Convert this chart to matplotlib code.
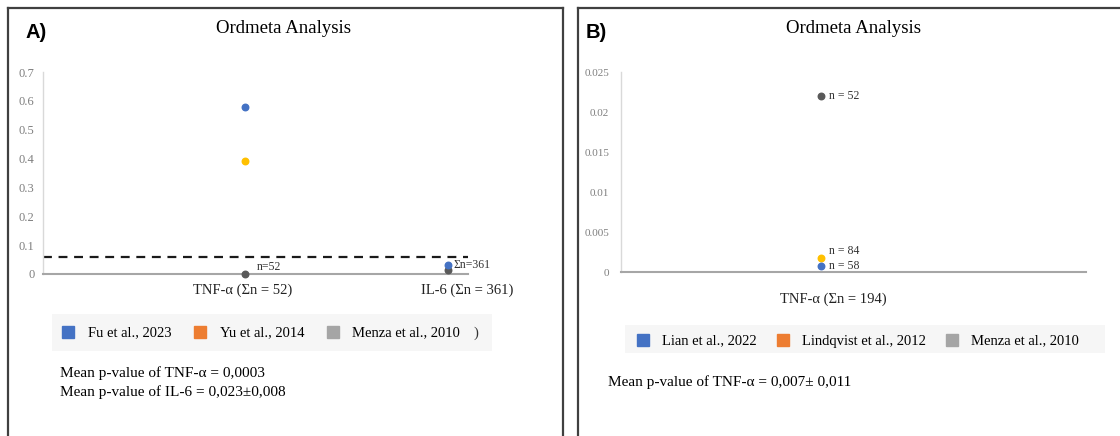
import numpy as np
import matplotlib
matplotlib.use('Agg')
import matplotlib.pyplot as plt
from matplotlib.lines import Line2D
from matplotlib.patches import Rectangle

plt.rcParams['font.family'] = ['Liberation Serif', 'DejaVu Serif']

# ---- panel A data ----
cats_a = ['TNF-α (Σn = 52)', 'IL-6 (Σn = 361)']
studies_a = ['Fu et al., 2023', 'Yu et al., 2014', 'Menza et al., 2010']
fu_a = [0.578, 0.031]
yu_a = [0.39, np.nan]
menza_a = [0.0003, 0.015]
threshold_a = 0.06
notes_a = ['n=52', 'Σn=361']
mean_a = ['Mean p-value of TNF-α = 0,0003', 'Mean p-value of IL-6 = 0,023±0,008']

# ---- panel B data ----
cats_b = ['TNF-α (Σn = 194)']
studies_b = ['Lian et al., 2022', 'Lindqvist et al., 2012', 'Menza et al., 2010']
lian_b = [0.0008]
lindqvist_b = [0.0018]
menza_b = [0.022]
notes_b = ['n = 58', 'n = 84', 'n = 52']
mean_b = 'Mean p-value of TNF-α = 0,007± 0,011'

BLUE = '#4472C4'
YELLOW = '#FFC000'
ORANGE = '#ED7D31'
DARK = '#595959'
LGRAY = '#A5A5A5'

W, H = 1120, 436
fig = plt.figure(figsize=(W / 100, H / 100), dpi=100)


def fx(px):
    return px / W


def fy(py):
    return 1 - py / H


def style_axes(ax):
    for s in ['top', 'right']:
        ax.spines[s].set_visible(False)
    ax.spines['left'].set_color('#D9D9D9')
    ax.spines['left'].set_linewidth(1)
    ax.spines['bottom'].set_color('#A6A6A6')
    ax.spines['bottom'].set_linewidth(1.5)
    ax.set_xticks([])
    ax.tick_params(axis='y', length=0, labelcolor='#7F7F7F', labelsize=9)


# panel frames
frame_kw = dict(color='#404040', lw=1.6, transform=fig.transFigure)
fig.add_artist(Line2D([fx(8), fx(8)], [fy(8), 0], **frame_kw))
fig.add_artist(Line2D([fx(8), fx(563)], [fy(8), fy(8)], **frame_kw))
fig.add_artist(Line2D([fx(563), fx(563)], [fy(8), 0], **frame_kw))
fig.add_artist(Line2D([fx(578), fx(578)], [fy(8), 0], **frame_kw))
fig.add_artist(Line2D([fx(578), 1], [fy(8), fy(8)], **frame_kw))

# ================= Panel A =================
axa = fig.add_axes([fx(43), fy(274), fx(425), (274 - 72) / H])
style_axes(axa)
xa = np.arange(1, len(cats_a) + 1)
axa.set_xlim(0, 2.1)
axa.set_ylim(0, 0.7)
axa.set_yticks(np.arange(0, 0.71, 0.1))
axa.set_yticklabels(['0', '0.1', '0.2', '0.3', '0.4', '0.5', '0.6', '0.7'])
axa.tick_params(axis='y', pad=6)
axa.axhline(threshold_a, color='#1A1A1A', lw=1.6, dashes=(4, 3))
axa.scatter(xa, menza_a, s=22, color=DARK, zorder=3, clip_on=False)
axa.scatter(xa, yu_a, s=22, color=YELLOW, zorder=3, clip_on=False)
axa.scatter(xa, fu_a, s=22, color=BLUE, zorder=4, clip_on=False)
axa.annotate(notes_a[0], (xa[0], menza_a[0]), xytext=(8, 5), textcoords='offset points',
             fontsize=8.5, color='#333333', va='center')
axa.annotate(notes_a[1], (xa[1], fu_a[1]), xytext=(4, 0), textcoords='offset points',
             fontsize=8.5, color='#333333', va='center')
lab_off_a = [-0.015, 0.095]
for i, c in enumerate(cats_a):
    axa.text(xa[i] + lab_off_a[i], -0.08, c, transform=axa.get_xaxis_transform(),
             ha='center', va='center', fontsize=10.5, color='#222222')

fig.text(fx(284), fy(28), 'Ordmeta Analysis', ha='center', va='center', fontsize=13.5)
fig.text(fx(26), fy(33), 'A)', ha='left', va='center', fontsize=14.5, fontweight='bold',
         family='Liberation Sans')

fig.add_artist(Rectangle((fx(52), fy(351)), fx(440), (351 - 314) / H,
                         transform=fig.transFigure, facecolor='#F6F6F6', edgecolor='none'))
hand_a = [Line2D([], [], ls='none', marker='s', markersize=9.2, color=c)
          for c in [BLUE, ORANGE, LGRAY]]
fig.legend(hand_a, studies_a, loc='center left', bbox_to_anchor=(fx(61), fy(333)),
           ncol=3, frameon=False, fontsize=10.5, handlelength=1.0, handletextpad=0.85,
           columnspacing=1.45, borderpad=0, borderaxespad=0)
fig.text(fx(474), fy(333), ')', ha='left', va='center', fontsize=10.5, color='#333333')
fig.text(fx(60), fy(373), mean_a[0], ha='left', va='center', fontsize=11)
fig.text(fx(60), fy(392), mean_a[1], ha='left', va='center', fontsize=11)

# ================= Panel B =================
axb = fig.add_axes([fx(621), fy(272), fx(465), (272 - 72) / H])
style_axes(axb)
xb = np.arange(1, len(cats_b) + 1)
axb.set_xlim(0, 2.325)
axb.set_ylim(0, 0.025)
axb.set_yticks(np.arange(0, 0.0251, 0.005))
axb.set_yticklabels(['0', '0.005', '0.01', '0.015', '0.02', '0.025'])
axb.tick_params(axis='y', pad=8.5, labelsize=8)
axb.scatter(xb, menza_b, s=22, color=DARK, zorder=3, clip_on=False)
axb.scatter(xb, lindqvist_b, s=22, color=YELLOW, zorder=3, clip_on=False)
axb.scatter(xb, lian_b, s=22, color=BLUE, zorder=4, clip_on=False)
axb.annotate(notes_b[0], (xb[0], lian_b[0]), xytext=(6, -0.5), textcoords='offset points',
             fontsize=8.5, color='#333333', va='center')
axb.annotate(notes_b[1], (xb[0], lindqvist_b[0]), xytext=(6, 4.5), textcoords='offset points',
             fontsize=8.5, color='#333333', va='center')
axb.annotate(notes_b[2], (xb[0], menza_b[0]), xytext=(6, 0), textcoords='offset points',
             fontsize=8.5, color='#333333', va='center')
axb.text(xb[0] + 0.06, -0.135, cats_b[0], transform=axb.get_xaxis_transform(),
         ha='center', va='center', fontsize=10.5, color='#222222')

fig.text(fx(854), fy(28), 'Ordmeta Analysis', ha='center', va='center', fontsize=13.5)
fig.text(fx(586), fy(33), 'B)', ha='left', va='center', fontsize=14.5, fontweight='bold',
         family='Liberation Sans')

fig.add_artist(Rectangle((fx(625), fy(353)), fx(480), (353 - 325) / H,
                         transform=fig.transFigure, facecolor='#F6F6F6', edgecolor='none'))
hand_b = [Line2D([], [], ls='none', marker='s', markersize=9.2, color=c)
          for c in [BLUE, ORANGE, LGRAY]]
fig.legend(hand_b, studies_b, loc='center left', bbox_to_anchor=(fx(636), fy(341)),
           ncol=3, frameon=False, fontsize=10.5, handlelength=1.0, handletextpad=0.8,
           columnspacing=1.3, borderpad=0, borderaxespad=0)
fig.text(fx(608), fy(382), mean_b, ha='left', va='center', fontsize=11)

fig.savefig('out.png', dpi=100)
